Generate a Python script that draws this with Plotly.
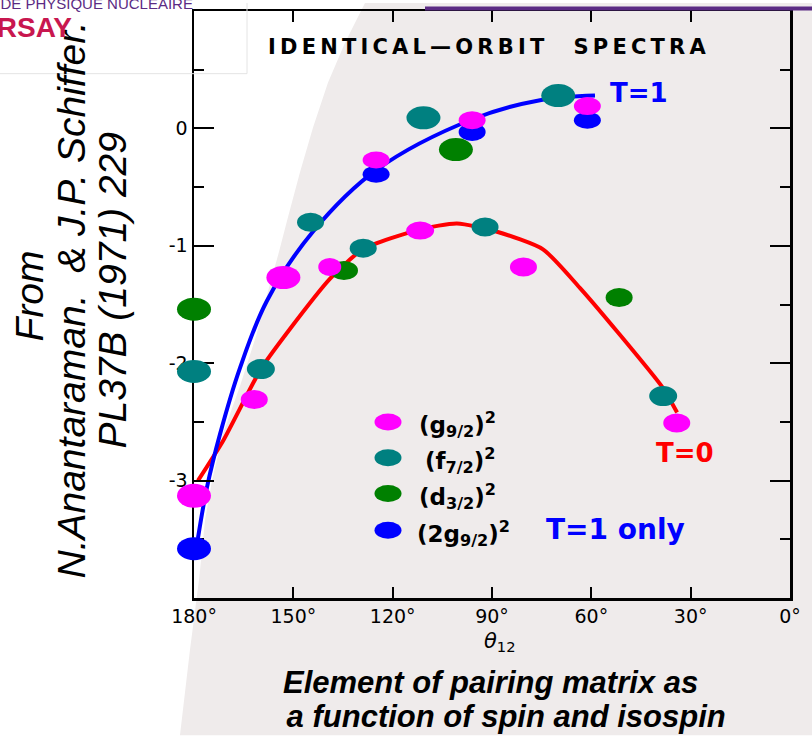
import plotly.graph_objects as go

# ---------------------------------------------------------------- data
theta_ticks = [180, 150, 120, 90, 60, 30, 0]
theta_labels = ["180°", "150°", "120°", "90°", "60°", "30°", "0°"]
val_ticks = [0, -1, -2, -3]
val_labels = ["0", "-1", "-2", "-3"]

# identical-orbit matrix elements vs. theta_12 (degrees)
g92_theta = [180, 161.8, 153.0, 139.0, 125.0, 111.7, 96.0, 80.5, 61.2, 34.2]
g92_val = [-3.13, -2.31, -1.27, -1.18, -0.27, -0.87, 0.07, -1.18, 0.19, -2.51]

f72_theta = [180, 159.8, 144.8, 128.9, 110.7, 92.1, 70.0, 38.3]
f72_val = [-2.07, -2.05, -0.80, -1.02, 0.09, -0.84, 0.28, -2.28]

d32_theta = [180, 134.7, 100.9, 51.6]
d32_val = [-1.54, -1.21, -0.18, -1.44]

g92b_theta = [180, 125.0, 96.0, 61.2]
g92b_val = [-3.58, -0.39, -0.03, 0.07]

# smooth guide curves
t1_theta = [178.8, 176.1, 172.1, 166.1, 158.0, 144.1, 124.7, 95.7, 75.5, 58.9]
t1_val = [-3.49, -3.06, -2.60, -2.04, -1.47, -0.88, -0.35, 0.08, 0.24, 0.28]
t0_theta = [178.8, 171.2, 159.8, 151.6, 138.9, 129.0, 111.7, 100.6, 88.5,
            74.6, 63.4, 52.2, 38.4, 34.1]
t0_val = [-3.00, -2.66, -2.05, -1.73, -1.28, -1.03, -0.86, -0.81, -0.88,
          -1.03, -1.36, -1.73, -2.21, -2.42]

# ---------------------------------------------------------------- layout geometry
W, H = 812, 736
AX_L, AX_R, AX_T, AX_B = 194, 790, 8, 598      # frame of the axes box (px)
ML, MR = 160, W - AX_R                         # outer plotting region
MT, MB = AX_T, H - AX_B
PW, PH = W - ML - MR, H - MT - MB
X_MAX, X_MIN = 180.0, 0.0
deg_per_px = (X_MAX - X_MIN) / (AX_R - AX_L)


def px(x):
    return (x - ML) / PW


def py(y):
    return (H - MB - y) / PH


MAGENTA = "#FF00FF"
TEAL = "#008080"
GREEN = "#008000"
BLUE = "#0000FF"
RED = "#FF0000"

fig = go.Figure()

fig.add_trace(go.Scatter(x=t0_theta, y=t0_val, mode="lines",
                         line=dict(color=RED, width=4, shape="spline", smoothing=0.6),
                         hoverinfo="skip", showlegend=False))
fig.add_trace(go.Scatter(x=t1_theta, y=t1_val, mode="lines",
                         line=dict(color=BLUE, width=4, shape="spline", smoothing=1.0),
                         hoverinfo="skip", showlegend=False))

# carriers for the data points (drawn as ellipses below, on the wider x2 scale)
for name, tx, vy in [("(g9/2)^2", g92_theta, g92_val), ("(f7/2)^2", f72_theta, f72_val),
                     ("(d3/2)^2", d32_theta, d32_val), ("(2g9/2)^2", g92b_theta, g92b_val)]:
    fig.add_trace(go.Scatter(x=tx, y=vy, xaxis="x2", yaxis="y", mode="markers", name=name,
                             marker=dict(size=22, opacity=0), showlegend=False))

shapes = []

# slide background sweep
edge = [(365, 0), (345, 40), (328, 80), (313, 125), (300, 170), (288, 215),
        (279, 250), (268, 290), (256, 335), (240, 385), (223, 433), (212, 480),
        (205, 520), (199, 580), (190, 650), (180, 736)]
path = "M " + " L ".join(f"{px(a):.4f},{py(b):.4f}" for a, b in edge)
path += f" L {px(W):.4f},{py(H):.4f} L {px(W):.4f},{py(0):.4f} Z"
shapes.append(dict(type="path", path=path, xref="paper", yref="paper",
                   fillcolor="#EFEBEB", line=dict(width=0), layer="below"))

# header decorations
shapes.append(dict(type="line", xref="paper", yref="paper",
                   x0=px(425), x1=px(W), y0=py(5.5), y1=py(5.5),
                   line=dict(color="#5B2B84", width=4)))
shapes.append(dict(type="line", xref="paper", yref="paper",
                   x0=px(0), x1=px(247), y0=py(71), y1=py(71),
                   line=dict(color="#E4E4E4", width=1)))
shapes.append(dict(type="line", xref="paper", yref="paper",
                   x0=px(247), x1=px(247), y0=py(0), y1=py(71),
                   line=dict(color="#E4E4E4", width=1)))


def ellipses(thetas, vals, color, sizes):
    out = []
    for t, v, (w, h) in zip(thetas, vals, sizes):
        out.append(dict(type="circle", xref="x2", yref="y",
                        xsizemode="pixel", ysizemode="pixel",
                        xanchor=t, yanchor=v,
                        x0=-w / 2, x1=w / 2, y0=-h / 2, y1=h / 2,
                        fillcolor=color, line=dict(width=0), layer="above"))
    return out


S, BIG = (27, 19), (34, 23)
shapes += ellipses(f72_theta, f72_val, TEAL, [BIG, (28, 20), S, S, BIG, S, BIG, (28, 20)])
shapes += ellipses(d32_theta, d32_val, GREEN, [BIG, (28, 19), BIG, S])
shapes += ellipses(g92b_theta, g92b_val, BLUE, [BIG, (27, 17), (27, 18), (27, 17)])
shapes += ellipses(g92_theta, g92_val, MAGENTA, [(34, 24), S, (34, 23), (23, 18), (27, 17),
                                                 (28, 18), (27, 18), S, (27, 18), S])

# key
key = [(MAGENTA, 421, 417, "(g<sub>9/2</sub>)<sup>2</sup>"),
       (TEAL, 457, 423, "(f<sub>7/2</sub>)<sup>2</sup>"),
       (GREEN, 493, 417, "(d<sub>3/2</sub>)<sup>2</sup>"),
       (BLUE, 530, 415, "(2g<sub>9/2</sub>)<sup>2</sup>")]
annotations = []
for color, yk, xt, label in key:
    shapes.append(dict(type="circle", xref="paper", yref="paper",
                       xsizemode="pixel", ysizemode="pixel",
                       xanchor=px(388), yanchor=py(yk),
                       x0=-13.5, x1=13.5, y0=-8.5, y1=8.5,
                       fillcolor=color, line=dict(width=0)))
    annotations.append(dict(text=label, x=px(xt), y=py(yk + 3), xref="paper", yref="paper",
                            xanchor="left", yanchor="middle", showarrow=False,
                            font=dict(family="DejaVu Sans", size=23, color="black", weight="bold")))


def note(text, x, y, size, color="black", family="DejaVu Sans", weight="normal",
         style="normal", angle=0, xanchor="center", yanchor="middle"):
    annotations.append(dict(text=text, x=px(x), y=py(y), xref="paper", yref="paper",
                            xanchor=xanchor, yanchor=yanchor, showarrow=False,
                            textangle=angle,
                            font=dict(family=family, size=size, color=color,
                                      weight=weight, style=style)))


th = "\u2009"
nb = "\u00a0"
title_txt = (th.join("IDENTICAL") + th + "\u2014" + th + th.join("ORBIT")
             + nb * 4 + th.join("SPECTRA"))
note(title_txt, 487, 44, 21, weight="bold")

note("T=1", 639, 90, 26, color=BLUE, weight="bold")
note("T=0", 685, 452, 26, color=RED, weight="bold")
note("T=1 only", 615, 529, 28, color=BLUE, weight="bold")

note("<i>θ</i><sub>12</sub>", 500, 642, 21)

note("Element of pairing matrix as", 490, 683, 31, family="Liberation Sans",
     weight="bold", style="italic")
note(" a function of spin and isospin", 502, 717, 31, family="Liberation Sans",
     weight="bold", style="italic")

note("From", 30, 295, 39, family="Liberation Sans", style="italic", angle=-90)
note("N.Anantaraman.  & J.P. Schiffer.", 72, 299, 39, family="Liberation Sans",
     style="italic", angle=-90)
note("PL37B (1971) 229", 113, 289, 39, family="Liberation Sans", style="italic", angle=-90)

# institute banner (cut by the page edge)
note("INSTITUT DE PHYSIQUE NUCLEAIRE", 195, 11, 15, color="#5B2B84",
     family="Liberation Sans", xanchor="right", yanchor="bottom")
note("ORSAY", -27, 25, 28, color="#C8174F", family="Liberation Sans",
     weight="bold", xanchor="left")

axis_font = dict(family="DejaVu Sans", size=19, color="black")
dom = [(AX_L - ML) / PW, (AX_R - ML) / PW]
fig.update_layout(
    width=W, height=H,
    margin=dict(l=ML, r=MR, t=MT, b=MB, pad=0),
    paper_bgcolor="white", plot_bgcolor="rgba(0,0,0,0)",
    showlegend=False, dragmode=False,
    shapes=shapes, annotations=annotations,
    xaxis=dict(domain=dom, range=[X_MAX, X_MIN], tickmode="array",
               tickvals=theta_ticks, ticktext=theta_labels,
               ticks="inside", ticklen=11, tickwidth=2, tickcolor="black",
               showline=True, linewidth=2.5, linecolor="black", mirror="ticks",
               showgrid=False, zeroline=False, tickfont=axis_font, ticklabelstandoff=0),
    xaxis2=dict(domain=[0, 1], anchor="y", visible=False,
                range=[X_MAX + (AX_L - ML) * deg_per_px, X_MIN]),
    yaxis=dict(range=[-4, 1], tickmode="array", tickvals=val_ticks, ticktext=val_labels,
               ticks="inside", ticklen=20, tickwidth=2, tickcolor="black",
               minor=dict(tickmode="linear", tick0=0, dtick=0.5, ticks="inside",
                          ticklen=10, tickwidth=2, tickcolor="black"),
               showline=True, linewidth=2.5, linecolor="black", mirror="ticks",
               showgrid=False, zeroline=False, tickfont=axis_font, ticklabelstandoff=0),
)

fig.write_html("out.html", config={"staticPlot": True})
